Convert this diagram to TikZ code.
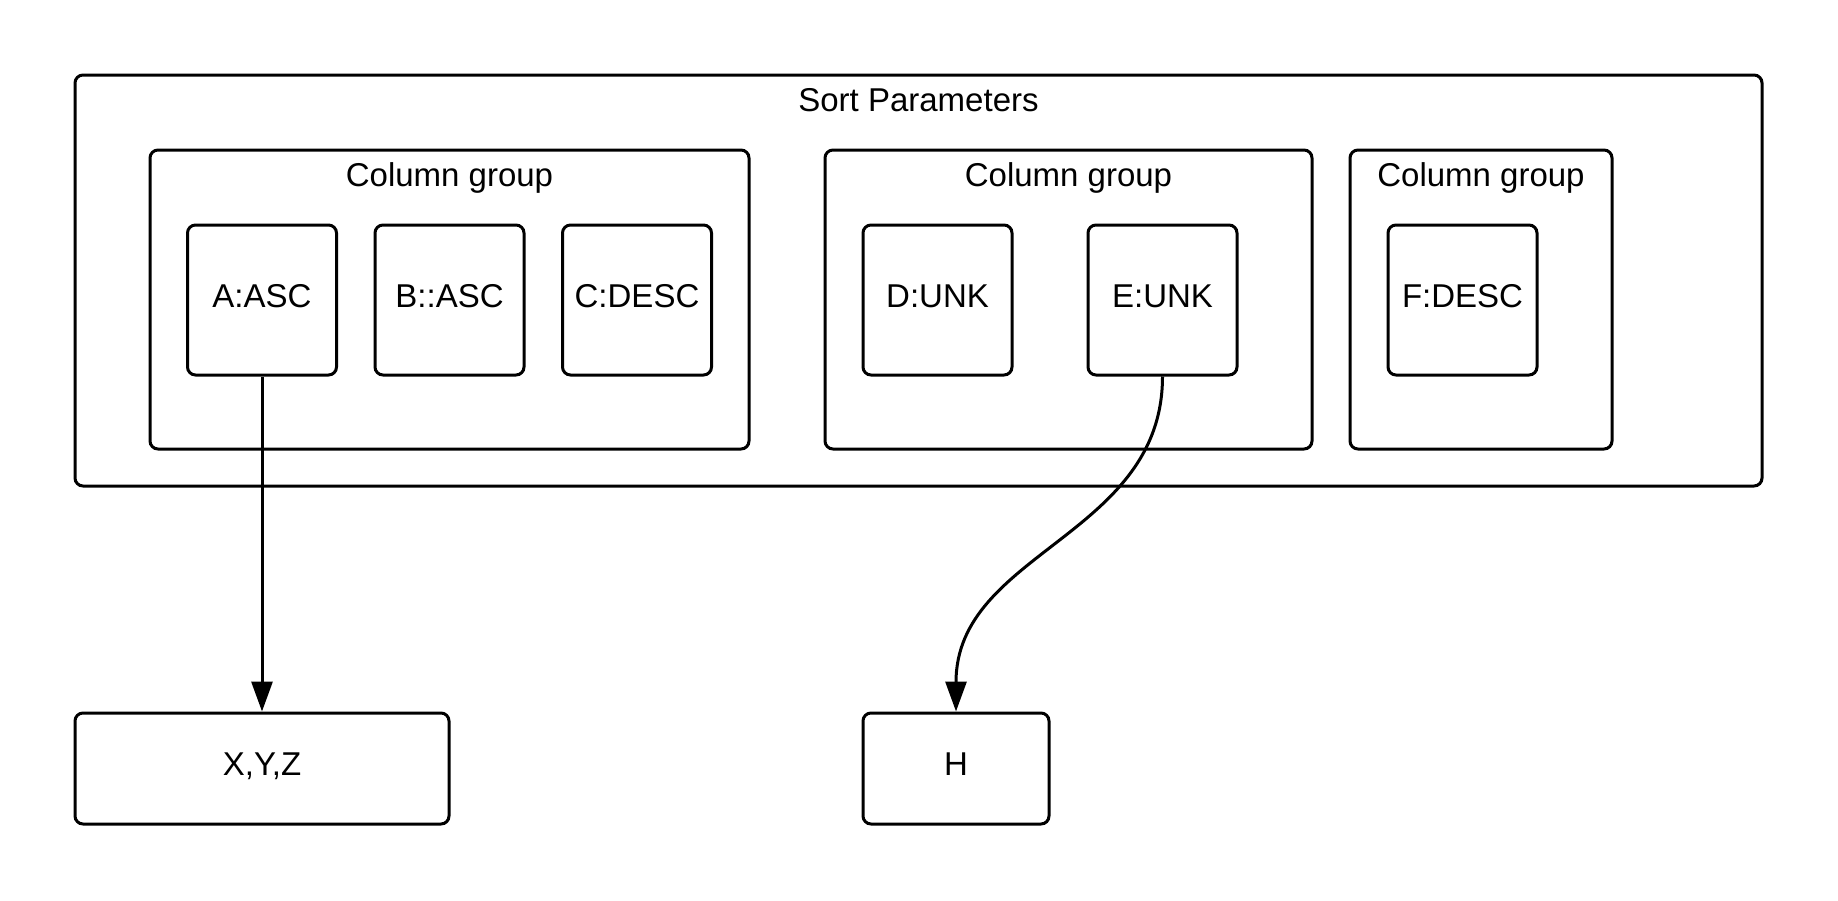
\documentclass[tikz,border=0pt]{standalone}
\usepackage{fontspec}
\setmainfont{Liberation Sans}
\usetikzlibrary{arrows.meta}
\begin{document}
\begin{tikzpicture}[x=1pt,y=-1pt,
  box/.style={draw=black, line width=3pt, rounded corners=8pt, inner sep=0pt, fill=white},
  txt/.style={font=\fontsize{33}{40}\selectfont, text height=23.6pt, text depth=9pt},
  item/.style={box, txt, minimum width=149pt, minimum height=150pt},
  title/.style={inner sep=0pt, font=\fontsize{33}{40}\selectfont},
  conn/.style={draw=black, line width=3pt, -{Triangle[length=30pt,width=21pt]}}]
\useasboundingbox[fill=white] (0,0) rectangle (1838,900);
% outer container
\node[box, minimum width=1687pt, minimum height=411pt] (outer) at (918.5,280.5) {};
\node[title] (outert) at (918.5,100) {Sort Parameters};
% column groups
\node[box, minimum width=599pt, minimum height=299pt] (g1) at (449.5,299.5) {};
\node[box, minimum width=487pt, minimum height=299pt] (g2) at (1068.5,299.5) {};
\node[box, minimum width=262pt, minimum height=299pt] (g3) at (1481,299.5) {};
\node[title] (g1t) at (449.5,177.5) {Column group};
\node[title] (g2t) at (1068.5,177.5) {Column group};
\node[title] (g3t) at (1481,177.5) {Column group};
% items
\node[item] (A) at (262,300) {A:ASC};
\node[item] (B) at (449.5,300) {B::ASC};
\node[item] (C) at (637,300) {C:DESC};
\node[item] (D) at (937.5,300) {D:UNK};
\node[item] (E) at (1162.5,300) {E:UNK};
\node[item] (F) at (1462.5,300) {F:DESC};
% targets
\node[box, txt, minimum width=374pt, minimum height=111pt] (X) at (262,768.5) {X,Y,Z};
\node[box, txt, minimum width=186pt, minimum height=111pt] (H) at (956,768.5) {H};
% connectors
\draw[conn] (A.south) -- (X.north);
\draw[conn] (E.south) .. controls ([yshift=-160pt]E.south) and ([yshift=160pt]H.north) .. (H.north);
\end{tikzpicture}
\end{document}
